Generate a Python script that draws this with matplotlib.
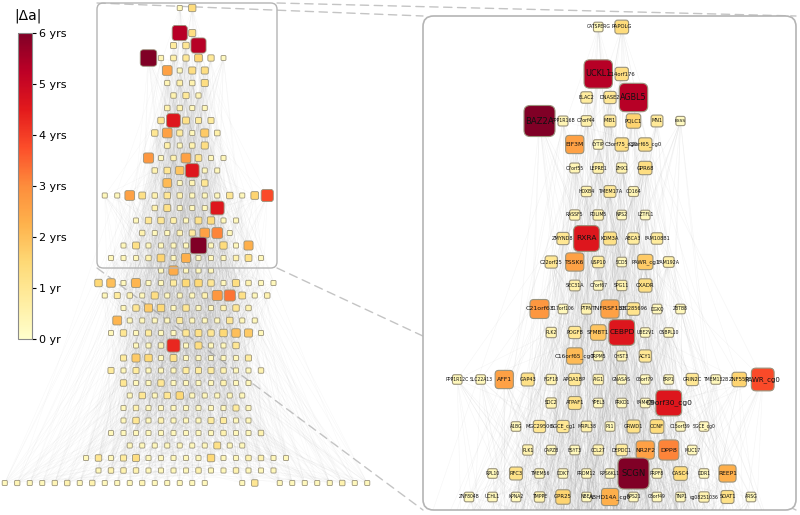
import matplotlib
matplotlib.use("Agg")
import matplotlib.pyplot as plt
from matplotlib.patches import FancyBboxPatch, ConnectionPatch
from matplotlib.collections import LineCollection
from matplotlib import colors, cm

# |delta a| (years) per node, one list per level of the network, top to bottom
# levels 0..20 are the ones shown (with names) in the zoomed panel
names_top = [
    ["CATSPERG", "PAPOLG"],
    [],
    ["UCKL1", "C14orf176"],
    ["ELAC2", "DNASE2", "AGBL5"],
    ["BAZ2A", "PPP1R16B", "C7orf44", "MIB1", "PQLC1", "MN1", "BSSS"],
    ["EIF3M", "CYTIP", "C3orf75_cg0", "C2orf65_cg0"],
    ["C7orf55", "LEPRE1", "ZHX1", "GPR68"],
    ["HOXB4", "TMEM17A", "CD164"],
    ["RASSF5", "PDLIM5", "NPS2", "LZTFL1"],
    ["ZMYND8", "RXRA", "KDM3A", "ABCA3", "FAM108B1"],
    ["C22orf25", "TSSK6", "USP10", "SCD5", "PAWR_cg1", "FAM192A"],
    ["SEC31A", "C7orf67", "SPG11", "CXADR"],
    ["C21orf63", "C17orf106", "PTPN", "TNFRSF13B", "LOC285696", "DGKQ", "ZBTB8"],
    ["PLK2", "PDGFB", "SFMBT1", "CEBPD", "UBE2V1", "OSBPL10"],
    ["C16orf65_cg0", "TRPM5", "CHST3", "ACY1"],
    ["PPP1R12C", "SLC22A13", "AFF1", "GAP43", "FGF18", "APOA1BP", "AIG1",
     "GNASAS", "C6orf79", "ERP1", "GRIN2C", "TMEM132B", "ZNF559", "PAWR_cg0"],
    ["SDC2", "ATPAF1", "YPEL3", "PRKD1", "FAM40B", "C9orf30_cg0"],
    ["A1BG", "MGC29506", "SGCE_cg1", "MRPL38", "P11", "GRWD1", "CCNF",
     "C15orf39", "SGCE_cg0"],
    ["PLK1", "CAPZB", "ESYT3", "CCL27", "DEPDC1", "NR2F2", "DPP8", "MUC17"],
    ["RPL10", "RFC3", "TMEM56", "DOK7", "PRDM12", "RPS6KL1", "SCGN", "PRPF8",
     "CASC4", "DDR1", "REEP1"],
    ["ZNF804B", "UCHL1", "KPNA2", "TMPPE", "GPR25", "NBEA", "ABHD14A_cg0",
     "RPS21", "C8orf49", "TNP1", "cg08251036", "SOAT1", "ARSG"],
]
delta_top = [
    [0.3, 1.4],
    [],
    [5.3, 1.3],
    [0.8, 1.0, 5.3],
    [6.0, 0.4, 0.6, 0.9, 1.6, 0.9, 0.2],
    [2.6, 0.3, 1.3, 1.3],
    [0.4, 0.6, 0.5, 1.3],
    [0.5, 0.9, 0.4],
    [0.5, 0.5, 0.3, 0.3],
    [1.0, 4.6, 1.2, 0.8, 0.8],
    [1.0, 2.6, 0.8, 0.3, 1.8, 0.6],
    [0.6, 0.3, 0.5, 1.3],
    [2.8, 0.3, 0.5, 2.6, 1.1, 0.3, 0.3],
    [0.5, 1.0, 1.9, 4.6, 0.3, 0.3],
    [2.1, 0.3, 0.4, 1.0],
    [0.3, 0.3, 2.6, 1.2, 0.5, 1.0, 0.5, 0.3, 0.3, 0.3, 1.0, 0.3, 1.6, 3.8],
    [0.5, 1.2, 0.3, 0.3, 0.3, 4.6],
    [0.3, 1.0, 1.0, 0.6, 0.3, 1.2, 1.4, 0.3, 0.3],
    [0.5, 0.3, 0.3, 0.5, 0.8, 2.6, 3.1, 0.3],
    [0.3, 1.2, 0.3, 0.3, 0.3, 0.3, 6.0, 0.3, 1.4, 0.3, 2.3],
    [0.3, 0.3, 0.3, 0.5, 1.6, 0.3, 2.3, 0.3, 0.3, 0.3, 0.5, 1.2, 0.3],
]
# levels 21..38, only in the full network
delta_low = [
    [0.3, 2.4, 0.3, 0.3, 0.3],
    [1.5, 2.0, 0.3, 2.2, 0.3, 0.3, 0.8, 1.5, 1.5, 1.0, 0.3, 1.3, 0.5, 0.3, 0.3],
    [0.3, 0.8, 0.5, 0.3, 1.3, 0.3, 0.3, 0.3, 0.5, 2.8, 3.3, 1.2, 0.3, 0.5],
    [0.3, 1.0, 1.8, 1.5, 0.3, 1.0, 0.3, 0.3, 0.5, 1.0, 0.5],
    [2.2, 0.3, 0.3, 0.3, 0.3, 0.8, 0.3, 0.3, 0.3, 1.0, 0.3, 0.3],
    [0.3, 1.0, 0.3, 0.8, 0.3, 0.3, 1.0, 1.2, 1.0, 1.5, 2.0, 1.8, 0.3],
    [0.3, 0.3, 0.5, 4.3, 0.3, 1.3, 0.3, 0.3, 1.0],
    [0.8, 1.8, 1.5, 0.3, 1.2, 0.3, 0.3, 0.3, 0.3, 0.3, 0.8],
    [0.8, 0.3, 0.8, 0.3, 0.3, 0.3, 0.8, 0.8, 0.8, 0.5, 0.3, 0.3, 0.5],
    [1.0, 0.3, 0.3, 1.0, 0.3, 0.3, 0.3, 0.3, 0.5, 0.3, 0.3],
    [0.3, 1.0, 0.3, 1.0, 1.5, 0.3, 0.3, 0.3, 0.3, 0.3],
    [0.3, 0.5, 0.3, 0.3, 0.3, 0.3, 0.3, 0.3, 0.3, 0.8, 0.3],
    [0.3, 1.0, 0.3, 0.5, 0.3, 0.3, 0.3, 0.8, 0.8, 0.3, 0.3],
    [0.3, 0.3, 0.3, 0.3, 0.3, 0.3, 0.3, 0.3, 0.3, 0.5, 0.3, 0.3, 0.5],
    [0.3, 0.3, 0.3, 0.3, 0.3, 0.3, 0.3, 1.2, 0.3, 0.3],
    [0.3, 1.0, 0.3, 0.8, 1.3, 0.3, 0.3, 0.3, 0.3, 0.3, 1.5, 0.3, 0.3, 0.5, 0.5, 0.3, 0.3],
    [0.3, 0.5, 0.5, 0.5, 0.3, 0.3, 0.3, 0.3, 0.5, 0.3, 0.3, 0.5, 0.3, 0.3, 0.3],
    [0.3, 0.4, 0.3, 0.3, 0.4, 0.5, 0.3, 0.5, 0.3, 0.3, 0.3, 0.4, 0.3, 0.3, 0.3, 0.3,
     0.3, None, None, 0.3, 1.0, None, 0.3, 0.3, 0.3, 0.3, 0.3, 0.5, 0.3, 0.3],
]
tick_labels = ["0 yr", "1 yr", "2 yrs", "3 yrs", "4 yrs", "5 yrs", "6 yrs"]

cmap = plt.get_cmap("YlOrRd")
norm = colors.Normalize(0, 6)

# node list: x (slot from row centre), level, value, name
nodes = []
for lev, row in enumerate(delta_top + delta_low):
    n = len(row)
    for k, v in enumerate(row):
        if v is None:
            continue
        name = names_top[lev][k] if lev < len(names_top) else None
        nodes.append((k - (n - 1) / 2, lev, v, name))

# light background links between levels (structure only, not read off)
segs = []
for i, a in enumerate(nodes):
    for j, b in enumerate(nodes):
        if b[1] > a[1] and (i * 7 + j * 11) % 27 == 0:
            segs.append([(a[0], a[1]), (b[0], b[1])])

W, H = 800, 515
fig = plt.figure(figsize=(8, 5.15), dpi=100)

# full network, 12.5 px per slot, centre x=186, level 0 at y=8
u1, cx1, cy1 = 12.5, 186, 8
axL = fig.add_axes([0, 0, 372 / W, 1])
axL.set_xlim((0 - cx1) / u1, (372 - cx1) / u1)
axL.set_ylim((H - cy1) / u1, (0 - cy1) / u1)
axL.axis("off")
axL.set_zorder(2)

# zoomed panel, 23.5 px per slot, centre x=610, level 0 at y=27
u2, cx2, cy2 = 23.5, 610, 27
x0, x1, y0, y1 = 418, 800, 11, 514
axR = fig.add_axes([x0 / W, (H - y1) / H, (x1 - x0) / W, (y1 - y0) / H])
axR.set_xlim((x0 - cx2) / u2, (x1 - cx2) / u2)
axR.set_ylim((y1 - cy2) / u2, (y0 - cy2) / u2)
axR.axis("off")
axR.set_zorder(3)

frame = FancyBboxPatch(((423 - cx2) / u2, (16 - cy2) / u2), 373 / u2, 494 / u2,
                       boxstyle="round,pad=0,rounding_size=0.45",
                       fc="white", ec="#b4b4b4", lw=1.2, zorder=0)
axR.add_patch(frame)

box = FancyBboxPatch(((97 - cx1) / u1, (3 - cy1) / u1), 180 / u1, 265 / u1,
                     boxstyle="round,pad=0,rounding_size=0.5",
                     fc="none", ec="#b4b4b4", lw=1.0, zorder=5)
axL.add_patch(box)

axL.add_collection(LineCollection(segs, colors=[(0.6, 0.6, 0.6, 0.08)], lw=0.35, zorder=1))
lcR = LineCollection(segs, colors=[(0.6, 0.6, 0.6, 0.10)], lw=0.4, zorder=1)
axR.add_collection(lcR)
lcR.set_clip_path(frame)


def side(v):
    return (4.5 + 2 * v) / 12.5


for x, y, v, name in nodes:
    s = side(v)
    axL.add_patch(FancyBboxPatch((x - s / 2, y - s / 2), s, s,
                                 boxstyle="round,pad=0,rounding_size=%.3f" % (0.2 * s),
                                 fc=cmap(norm(v)), ec="#9a937c", lw=0.6, zorder=3))
    if name is not None:
        p = FancyBboxPatch((x - s / 2, y - s / 2), s, s,
                           boxstyle="round,pad=0,rounding_size=%.3f" % (0.2 * s),
                           fc=cmap(norm(v)), ec="#9a937c", lw=0.8, zorder=3)
        axR.add_patch(p)
        p.set_clip_path(frame)

for x, y, v, name in nodes:
    if name is not None:
        axR.text(x, y, name, fontsize=3.1 + 0.5 * v, ha="center", va="center",
                 color="#111111", zorder=4)

# dashed lines joining the highlighted box to the zoomed panel
corners = [((97, 3), (423, 16)), ((277, 3), (796, 16)),
           ((97, 268), (423, 510)), ((277, 268), (796, 510))]
for (ax_, ay_), (bx_, by_) in corners:
    con = ConnectionPatch(xyA=((ax_ - cx1) / u1, (ay_ - cy1) / u1), coordsA=axL.transData,
                          xyB=((bx_ - cx2) / u2, (by_ - cy2) / u2), coordsB=axR.transData,
                          color="#c4c4c4", lw=1.0, linestyle=(0, (6, 4)))
    con.set_zorder(1)
    fig.add_artist(con)

# colour bar
cax = fig.add_axes([18 / W, (H - 339) / H, 14 / W, 306 / H])
cax.set_zorder(4)
cb = fig.colorbar(cm.ScalarMappable(norm=norm, cmap=cmap), cax=cax, ticks=range(7))
cb.ax.set_yticklabels(tick_labels, fontsize=8)
cb.ax.tick_params(length=3, width=0.8, pad=2)
cb.outline.set_edgecolor("#8a8a8a")
fig.text(28 / W, 1 - 16 / H, "|Δa|", fontsize=10, ha="center", va="center")

fig.savefig("out.png", dpi=100)
